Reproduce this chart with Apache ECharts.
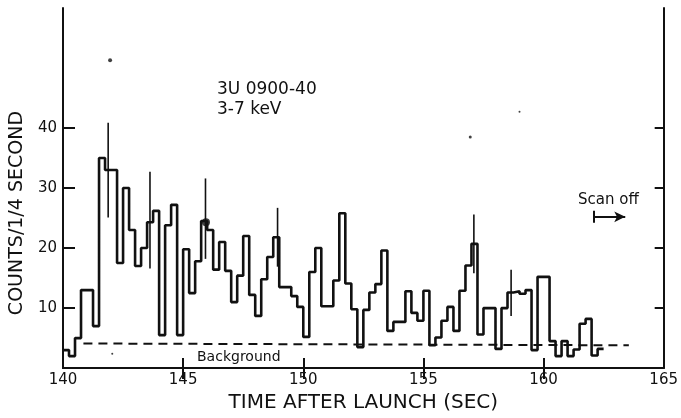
<!DOCTYPE html>
<html><head><meta charset="utf-8">
<script src="https://cdn.jsdelivr.net/npm/echarts@6/dist/echarts.min.js"></script>
<style>html,body{margin:0;padding:0;background:#fff}#c{width:681px;height:418px}</style>
</head><body><div id="c"></div>
<script>
// Histogram: counts per 1/4-second bin, first bin starts at 140.0 s
const binStart = 140.0;
const binWidth = 0.25;
const counts = [
  3, 2, 5, 13, 13, 7, 35, 33, 33, 17.5,
  30, 23, 17, 20, 24.3, 26.2, 5.5, 23.8, 27.2, 5.5,
  19.8, 12.5, 17.8, 24.5, 23, 16.4, 21, 16.2, 11, 15.4,
  22, 12.2, 8.7, 14.8, 18.5, 21.8, 13.5, 13.5, 12, 10.2,
  5.2, 16, 20, 10.3, 10.3, 14.6, 25.8, 14.1, 9.8, 3.5,
  9.7, 12.6, 14, 19.6, 6.2, 7.7, 7.7, 12.8, 9.2, 7.9,
  12.9, 3.8, 5.1, 7.9, 10.2, 6.2, 12.9, 17.1, 20.7, 5.6,
  10, 10, 3.2, 10, 12.6, 12.8, 12.4, 13, 3, 15.2,
  15.2, 4.5, 2, 4.5, 2, 3.1, 7.4, 8.2, 2.1, 3.2
];
// Error bars (time, low, high)
const errTimes = [141.88, 143.62, 145.93, 148.93, 157.10, 158.65];
const errLow   = [25.1, 16.6, 18.2, 16.9, 15.8, 8.7];
const errHigh  = [40.9, 32.7, 31.6, 26.7, 25.6, 16.4];
// Marked point on the 146 s peak
const markTimes = [145.95];
const markValues = [24.3];
// Isolated dots in the figure
const dotTimes = [141.96, 156.95, 159.0, 142.05];
const dotValues = [51.3, 38.5, 42.7, 2.4];
const dotSizes = [4, 3, 2, 2];
// Background level (dashed)
const bgTimes = [140.85, 163.55];
const bgValues = [4.1, 3.8];
// Scan-off marker
const scanTime = 162.1, scanEnd = 163.4, scanLevel = 25.2;
// Axes
const xLabels = [140, 145, 150, 155, 160, 165];
const xTicks = [145, 150, 155, 160];
const yTicks = [10, 20, 30, 40];

const histData = counts.map((v, i) => [binStart + binWidth * i, v]);
histData.push([binStart + binWidth * counts.length, counts[counts.length - 1]]);

const FONT = 'DejaVu Sans';
const INK = '#111';

const chart = echarts.init(document.getElementById('c'), null, {renderer: 'canvas'});
const axisLineStyle = {color: INK, width: 2};
chart.setOption({
  backgroundColor: '#fff',
  animation: false,
  grid: {left: 63, right: 9, top: 8, bottom: 45},
  xAxis: [{
    type: 'value', min: 140, max: 165, interval: 5, position: 'bottom',
    name: 'TIME AFTER LAUNCH (SEC)', nameLocation: 'middle', nameGap: 16,
    nameTextStyle: {fontFamily: FONT, fontSize: 20, color: INK},
    axisLine: {show: true, lineStyle: axisLineStyle},
    axisTick: {show: true, inside: true, length: 10, customValues: xTicks, lineStyle: {color: INK, width: 2}},
    axisLabel: {customValues: xLabels, fontFamily: FONT, fontSize: 15, color: INK, margin: 5, alignMaxLabel: 'center', alignMinLabel: 'center'},
    splitLine: {show: false}
  }, {
    type: 'value', min: 140, max: 165, interval: 5, position: 'top',
    axisLine: {show: true, lineStyle: axisLineStyle},
    axisTick: {show: true, inside: true, length: 11, customValues: xTicks, lineStyle: {color: INK, width: 2}},
    axisLabel: {show: false}, splitLine: {show: false}
  }],
  yAxis: [{
    type: 'value', min: 0, max: 60, interval: 10, position: 'left',
    name: 'COUNTS/1/4 SECOND', nameLocation: 'middle', nameGap: 31,
    nameTextStyle: {fontFamily: FONT, fontSize: 19, color: INK, padding: [0, 50, 0, 0]},
    axisLine: {show: true, lineStyle: axisLineStyle},
    axisTick: {show: true, inside: true, length: 12, customValues: yTicks, lineStyle: {color: INK, width: 2}},
    axisLabel: {customValues: yTicks, fontFamily: FONT, fontSize: 15, color: INK, margin: 6},
    splitLine: {show: false}
  }, {
    type: 'value', min: 0, max: 60, interval: 10, position: 'right',
    axisLine: {show: true, lineStyle: axisLineStyle},
    axisTick: {show: true, inside: true, length: 9, customValues: yTicks, lineStyle: {color: INK, width: 2}},
    axisLabel: {show: false}, splitLine: {show: false}
  }],
  series: [{
    name: 'counts', type: 'line', step: 'end', symbol: 'none',
    data: histData,
    lineStyle: {color: INK, width: 2.6},
    z: 3
  }, {
    name: 'background', type: 'line', symbol: 'none',
    data: bgTimes.map((t, i) => [t, bgValues[i]]),
    lineStyle: {color: INK, width: 2, type: [9, 6]},
    markLine: {
      silent: true, symbol: 'none', symbolSize: 11,
      label: {show: false},
      lineStyle: {color: INK, width: 2, type: 'solid'},
      data: [
        [{coord: [scanTime, scanLevel - 1]}, {coord: [scanTime, scanLevel + 1]}]
      ]
    },
    z: 2
  }, {
    name: 'scan', type: 'line', symbol: 'none', data: [],
    markLine: {
      silent: true, symbol: ['none', 'arrow'], symbolSize: [8, 11],
      label: {show: false},
      lineStyle: {color: INK, width: 2, type: 'solid'},
      data: [
        [{coord: [scanTime, scanLevel]}, {coord: [scanEnd, scanLevel]}]
      ]
    },
    z: 2
  }, {
    name: 'errors', type: 'custom',
    data: errTimes.map((t, i) => [t, errLow[i], errHigh[i]]),
    encode: {x: 0, y: [1, 2]},
    renderItem: function (params, api) {
      const a = api.coord([api.value(0), api.value(1)]);
      const b = api.coord([api.value(0), api.value(2)]);
      return {type: 'line', shape: {x1: a[0], y1: a[1], x2: b[0], y2: b[1]},
              style: {stroke: INK, lineWidth: 1.6}};
    },
    z: 4
  }, {
    name: 'marks', type: 'scatter', symbol: 'circle', symbolSize: 8,
    data: markTimes.map((t, i) => [t, markValues[i]]),
    itemStyle: {color: INK}, z: 5
  }, {
    name: 'dots', type: 'scatter', symbol: 'circle',
    data: dotTimes.map((t, i) => ({value: [t, dotValues[i]], symbolSize: dotSizes[i]})),
    itemStyle: {color: INK}, z: 5
  }],
  graphic: [
    {type: 'text', left: 217, top: 81, style: {text: '3U 0900-40', font: '17px "DejaVu Sans"', fill: INK}},
    {type: 'text', left: 217, top: 101, style: {text: '3-7 keV', font: '17px "DejaVu Sans"', fill: INK}},
    {type: 'text', left: 578, top: 193, style: {text: 'Scan off', font: '15px "DejaVu Sans"', fill: INK}},
    {type: 'text', left: 197, top: 350, style: {text: 'Background', font: '14px "DejaVu Sans"', fill: INK}}
  ]
});
</script>
</body></html>
